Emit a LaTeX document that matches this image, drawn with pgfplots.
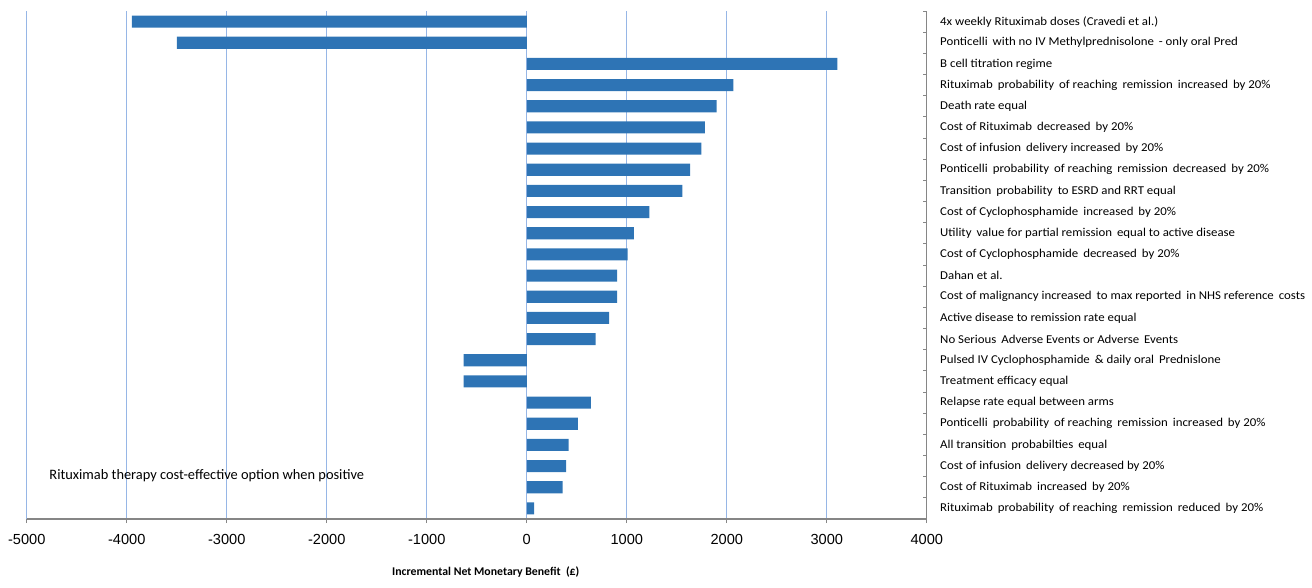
\documentclass[border=0pt]{standalone}
\usepackage{fontspec}
\setmainfont{Carlito}
\newfontfamily\labelfont[FakeStretch=1.07]{Carlito}
\newfontfamily\numfont{Liberation Sans}
\newcommand\x{\hspace{2.5pt}}
\usepackage{pgfplots}
\pgfplotsset{compat=1.18}
\definecolor{barblue}{RGB}{46,116,181}
\definecolor{gridblue}{RGB}{150,182,230}
\definecolor{axisgray}{RGB}{134,134,134}
\begin{document}
\begin{tikzpicture}
\path[use as bounding box] (-13.4pt,-34.5pt) rectangle (642.6pt,259.5pt);
\begin{axis}[
  at={(0,0)}, anchor=south west,
  scale only axis, width=450pt, height=254pt,
  xmin=-5000, xmax=4000, ymin=0.5, ymax=24.5, y dir=reverse,
  axis x line*=bottom, axis y line*=right,
  axis line style={draw=axisgray, line width=0.6pt},
  xtick={-5000,-4000,...,4000},
  xmajorgrids, major grid style={draw=gridblue, line width=0.6pt},
  /pgf/number format/1000 sep={},
  /pgf/number format/assume math mode=true,
  xticklabel style={font=\numfont\fontsize{7.3}{9}\selectfont, yshift=-2pt},
  x tick style={draw=axisgray, line width=0.6pt},
  tick align=outside, major tick length=2pt,
  ytick={1,...,24},
  y tick style={draw=none},
  yticklabel pos=right,
  yticklabel style={anchor=west, inner sep=0pt, xshift=4.5pt, font=\labelfont\fontsize{6}{7}\selectfont},
  yticklabels={
    4x weekly Rituximab doses (Cravedi et al.),
    Ponticelli\, with no IV Methylprednisolone \,- only oral Pred,
    B cell titration regime,
    Rituximab\x probability\x of reaching\x remission\x increased\x by 20\%,
    Death rate equal,
    Cost of Rituximab\x decreased\x by 20\%,
    Cost of infusion\x delivery increased\x by 20\%,
    Ponticelli\x probability\x of reaching\x remission\x decreased\x by 20\%,
    Transition\x probability\x to ESRD and RRT equal,
    Cost of Cyclophosphamide\x increased\x by 20\%,
    Utility\x value for partial remission\x equal to active disease,
    Cost of Cyclophosphamide\x decreased\x by 20\%,
    Dahan et al.,
    Cost of malignancy increased\x to max reported\x in NHS reference\x costs,
    Active disease to remission rate equal,
    No Serious\x Adverse Events or Adverse\x Events,
    Pulsed IV Cyclophosphamide\x \& daily oral\x Prednislone,
    Treatment efficacy equal,
    Relapse rate equal between arms,
    Ponticelli\x probability\x of reaching\x remission\x increased\x by 20\%,
    All transition\x probabilties\x equal,
    Cost of infusion\x delivery decreased by 20\%,
    Cost of Rituximab\x increased\x by 20\%,
    Rituximab\x probability\x of reaching\x remission\x reduced\x by 20\%
  },
  extra y ticks={0.5,1.5,...,24.5},
  extra y tick labels={},
  extra y tick style={y tick style={draw=axisgray, line width=0.5pt}, tick align=inside, major tick length=2pt},
  xlabel={\textbf{Incremental Net Monetary Benefit\ \ (£)}},
  xlabel style={font=\fontsize{5.9}{7}\selectfont, at={(axis description cs:0.51,0)}, anchor=center, yshift=-26.5pt},
]
\addplot[xbar, fill=barblue, draw=none, bar width=0.57, bar shift=0pt] table {
x y
-3950 1
-3500 2
3105 3
2065 4
1897 5
1781 6
1745 7
1632 8
1556 9
1225 10
1070 11
1007 12
904 13
904 14
824 15
689 16
-633 17
-633 18
640 19
510 20
417 21
393 22
357 23
73 24
};
\node[anchor=west, inner sep=0pt, font=\fontsize{7.2}{8}\selectfont] at (rel axis cs:0.0247,0.0846) {Rituximab therapy cost-effective option when positive};
\end{axis}
\end{tikzpicture}
\end{document}
